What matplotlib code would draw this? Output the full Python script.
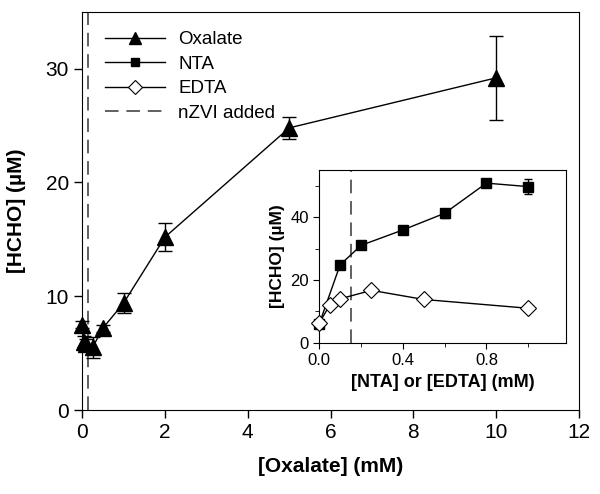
import matplotlib.pyplot as plt
from matplotlib.lines import Line2D

plt.rcParams['font.family'] = ['Liberation Sans', 'DejaVu Sans']

# main panel: oxalate
oxConc = [0, 0.05, 0.1, 0.25, 0.5, 1, 2, 5, 10]
oxHcho = [7.5, 6.0, 5.8, 5.5, 7.2, 9.4, 15.2, 24.8, 29.2]
oxErr = [0.3, 0.5, 0.4, 0.9, 0.3, 0.9, 1.2, 1.0, 3.7]

# inset: NTA and EDTA
ntaConc = [0, 0.1, 0.2, 0.4, 0.6, 0.8, 1.0]
ntaHcho = [6.0, 24.8, 31.0, 35.9, 41.2, 50.8, 49.7]
ntaErr = [0.5, 0.8, 0.8, 0.8, 1.5, 0.8, 2.4]

edtaConc = [0, 0.05, 0.1, 0.25, 0.5, 1.0]
edtaHcho = [6.2, 12.0, 14.0, 16.7, 13.8, 11.0]

nzviTime = 0.15

fig = plt.figure(figsize=(6, 4.94), dpi=100)
ax = fig.add_axes([0.137, 0.170, 0.828, 0.806])

ax.errorbar(oxConc, oxHcho, yerr=oxErr, color='black', marker='^', markersize=11.5,
            linewidth=1, capsize=5, elinewidth=1, capthick=1, zorder=3, clip_on=False)
ax.axvline(nzviTime, color='#606060', linestyle=(0, (7, 4)), linewidth=1.4, zorder=1)

ax.set_xlim(0, 12)
ax.set_ylim(0, 35)
ax.set_xticks([0, 2, 4, 6, 8, 10, 12])
ax.set_yticks([0, 10, 20, 30])
ax.tick_params(direction='out', labelsize=15, length=6, width=1)
ax.set_xlabel('[Oxalate] (mM)', fontsize=15, fontweight='bold', labelpad=11)
ax.set_ylabel('[HCHO] (µM)', fontsize=15, fontweight='bold', labelpad=14)

handles = [
    Line2D([], [], color='black', marker='^', markersize=9, linewidth=1),
    Line2D([], [], color='black', marker='s', markersize=6, linewidth=1),
    Line2D([], [], color='black', marker='D', markersize=7, markerfacecolor='white',
           markeredgewidth=0.8, linewidth=1),
    Line2D([], [], color='#606060', linestyle=(0, (7, 4)), linewidth=1.4),
]
ax.legend(handles, ['Oxalate', 'NTA', 'EDTA', 'nZVI added'], loc='upper left',
          bbox_to_anchor=(0.02, 0.985), frameon=False, fontsize=13.5, handlelength=3.2,
          handletextpad=0.7, labelspacing=0.4, borderaxespad=0.3)

ins = fig.add_axes([0.532, 0.306, 0.411, 0.350])
ins.errorbar(ntaConc, ntaHcho, yerr=ntaErr, color='black', marker='s', markersize=7.5,
             linewidth=1, capsize=3, elinewidth=1, capthick=1, zorder=3, clip_on=False)
ins.plot(edtaConc, edtaHcho, color='black', marker='D', markersize=8,
         markerfacecolor='white', markeredgewidth=0.8, linewidth=1, zorder=4, clip_on=False)
ins.axvline(nzviTime, color='#606060', linestyle=(0, (7, 4)), linewidth=1.4, zorder=1)
ins.set_xlim(0, 1.18)
ins.set_ylim(0, 55)
ins.set_xticks([0.0, 0.4, 0.8])
ins.set_xticks([0.2, 0.6, 1.0], minor=True)
ins.set_yticks([0, 20, 40])
ins.set_yticks([10, 30, 50], minor=True)
ins.tick_params(direction='out', labelsize=12, length=4, width=0.8)
ins.tick_params(which='minor', direction='out', length=3, width=0.6)
ins.set_xlabel('[NTA] or [EDTA] (mM)', fontsize=13, fontweight='bold', labelpad=4)
ins.set_ylabel('[HCHO] (µM)', fontsize=12.5, fontweight='bold', labelpad=4)

fig.savefig('out.png', dpi=100)
